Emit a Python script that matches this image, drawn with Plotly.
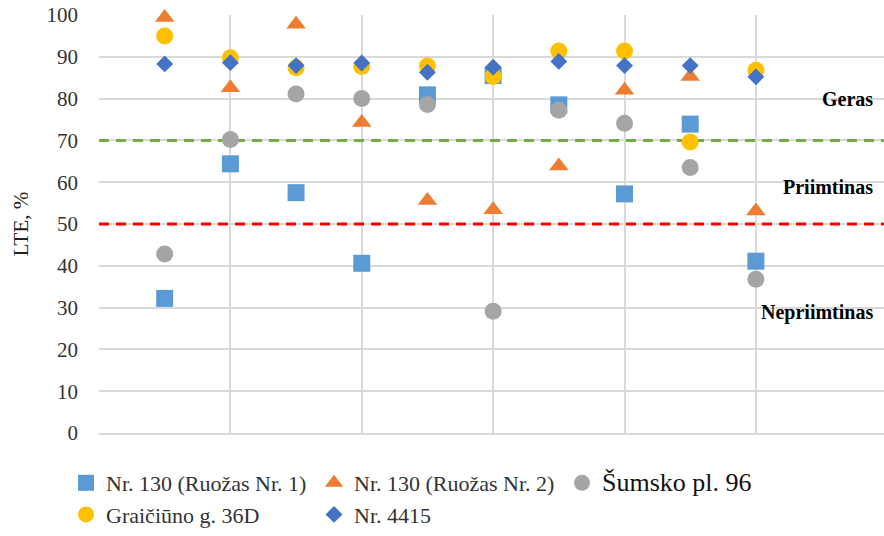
import plotly.graph_objects as go

points = [1, 2, 3, 4, 5, 6, 7, 8, 9, 10]

ruozas1 = [32.2, 64.4, 57.5, 40.6, 80.9, 85.5, 78.5, 57.2, 73.9, 41.1]
ruozas2 = [99.4, 82.6, 97.8, 74.3, 55.6, 53.4, 63.9, 82.0, 85.3, 53.1]
sumsko = [42.8, 70.2, 81.1, 80.0, 78.6, 29.1, 77.2, 74.1, 63.5, 36.8]
graiciuno = [95.0, 89.8, 87.4, 87.7, 87.8, 85.3, 91.4, 91.4, 69.6, 86.8]
nr4415 = [88.3, 88.6, 87.9, 88.5, 86.3, 87.5, 88.9, 87.9, 87.9, 85.2]

limit_x = [0, 12]
limit_good = [70, 70]
limit_ok = [50, 50]

serif = "Liberation Serif"

fig = go.Figure()

fig.add_trace(go.Scatter(x=limit_x, y=limit_good, mode="lines", showlegend=False, hoverinfo="skip",
                         line=dict(color="#70ad47", width=3, dash="10px,7px")))
fig.add_trace(go.Scatter(x=limit_x, y=limit_ok, mode="lines", showlegend=False, hoverinfo="skip",
                         line=dict(color="#ff0000", width=3, dash="10px,7px")))

series = [
    ("Nr. 130 (Ruožas Nr. 1)", ruozas1, "square", "#5b9bd5", 17),
    ("Nr. 130 (Ruožas Nr. 2)", ruozas2, "triangle-up", "#ed7d31", 17),
    ("<span style='font-size:26px;color:#111111'>Šumsko pl. 96</span>", sumsko, "circle", "#a5a5a5", 17),
    ("Graičiūno g. 36D", graiciuno, "circle", "#ffc000", 17),
    ("Nr. 4415", nr4415, "diamond", "#4472c4", 13),
]
for name, vals, sym, col, sz in series:
    fig.add_trace(go.Scatter(x=points, y=vals, mode="markers", name=name, cliponaxis=False,
                             marker=dict(symbol=sym, color=col, size=sz, line=dict(width=0))))

for txt, yv in [("Geras", 79.9), ("Priimtinas", 58.8), ("Nepriimtinas", 28.9)]:
    fig.add_annotation(x=11.82, y=yv, text=f"<b>{txt}</b>", showarrow=False, xanchor="right",
                       font=dict(family=serif, size=20, color="black"))

fig.update_layout(
    width=884, height=536,
    margin=dict(l=99, r=0, t=15, b=102),
    plot_bgcolor="white", paper_bgcolor="white",
    font=dict(family=serif, size=20, color="#222222"),
    legend=dict(orientation="h", x=-0.042, y=-0.07, xanchor="left", yanchor="top",
                entrywidth=203, entrywidthmode="pixels", itemwidth=30,
                font=dict(family=serif, size=22, color="#333333"), tracegroupgap=0),
)
fig.update_xaxes(range=[0, 11.95], dtick=2, tick0=0, showticklabels=False, showgrid=True,
                 gridcolor="#d9d9d9", gridwidth=1.5, zeroline=False, automargin=False,
                 showline=True, linecolor="#d9d9d9", linewidth=1.5)
fig.update_yaxes(range=[0, 100], dtick=10, showgrid=True, gridcolor="#d9d9d9", gridwidth=1.5,
                 zeroline=False, ticklabelstandoff=20, ticklabeloverflow="allow", automargin=False,
                 title=dict(text="LTE, %", font=dict(family=serif, size=21, color="#222222"), standoff=12),
                 tickfont=dict(family=serif, size=21, color="#333333"))

# drop the default 8px body margin so the figure fills the window
fig.write_html("out.html", config={"displayModeBar": False},
               post_script="document.body.style.margin='0';")
